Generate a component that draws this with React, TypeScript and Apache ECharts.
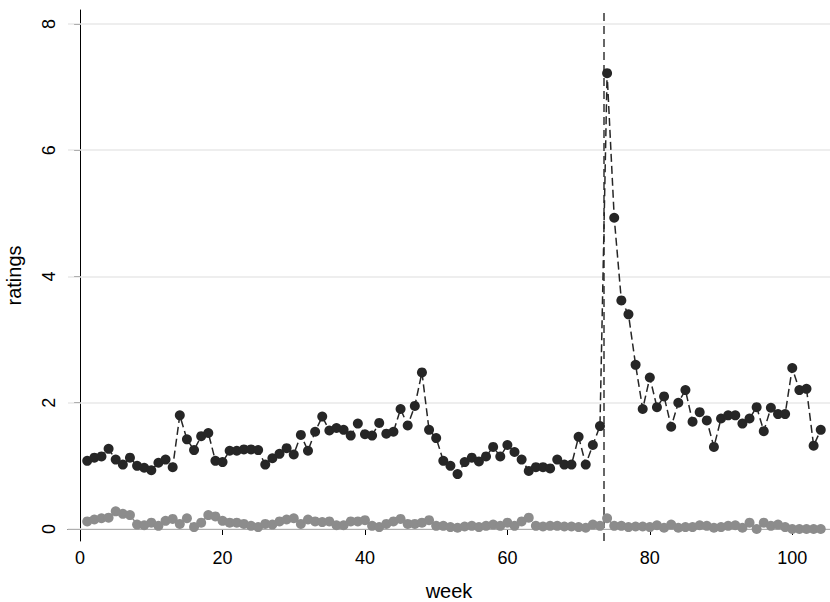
import { useEffect, useRef } from "react";
import * as echarts from "echarts";

const weeks = Array.from({ length: 104 }, (_, i) => i + 1);
const blackValues = [
  1.08, 1.13, 1.15, 1.27, 1.1, 1.02, 1.13, 1.0, 0.97, 0.93, 1.05, 1.1, 0.98, 1.8, 1.42, 1.25, 1.47, 1.52, 1.08, 1.06,
  1.24, 1.24, 1.26, 1.26, 1.25, 1.02, 1.12, 1.19, 1.28, 1.18, 1.49, 1.24, 1.54, 1.78, 1.56, 1.6, 1.57, 1.48, 1.67, 1.5,
  1.48, 1.68, 1.51, 1.54, 1.9, 1.64, 1.95, 2.48, 1.57, 1.44, 1.08, 1.0, 0.87, 1.06, 1.13, 1.07, 1.15, 1.3, 1.15, 1.33,
  1.22, 1.1, 0.92, 0.98, 0.98, 0.96, 1.1, 1.02, 1.02, 1.46, 1.02, 1.33, 1.63, 7.22, 4.93, 3.62, 3.4, 2.6, 1.9, 2.4,
  1.93, 2.1, 1.62, 2.0, 2.2, 1.7, 1.85, 1.72, 1.3, 1.75, 1.8, 1.8, 1.67, 1.75, 1.93, 1.55, 1.92, 1.82, 1.82, 2.55,
  2.2, 2.22, 1.32, 1.57,
];
const grayValues = [
  0.12, 0.15, 0.17, 0.18, 0.28, 0.24, 0.22, 0.07, 0.06, 0.1, 0.05, 0.13, 0.16, 0.08, 0.17, 0.03, 0.1, 0.22, 0.2, 0.13,
  0.1, 0.1, 0.08, 0.05, 0.03, 0.08, 0.07, 0.12, 0.15, 0.17, 0.08, 0.15, 0.12, 0.11, 0.12, 0.06, 0.06, 0.12, 0.12, 0.14,
  0.05, 0.03, 0.08, 0.12, 0.16, 0.08, 0.08, 0.1, 0.14, 0.05, 0.05, 0.03, 0.02, 0.04, 0.05, 0.03, 0.05, 0.07, 0.05, 0.1,
  0.05, 0.12, 0.18, 0.05, 0.04, 0.05, 0.05, 0.04, 0.04, 0.03, 0.02, 0.07, 0.05, 0.17, 0.05, 0.05, 0.03, 0.04, 0.04, 0.03,
  0.06, 0.02, 0.07, 0.02, 0.03, 0.03, 0.06, 0.05, 0.02, 0.03, 0.05, 0.06, 0.02, 0.1, 0.0, 0.1, 0.05, 0.07, 0.03, 0.0,
  0.0, 0.0, 0.0, 0.0,
];
const xTicks = [0, 20, 40, 60, 80, 100];
const yTicks = [0, 2, 4, 6, 8];
const eventWeek = 73.5;

export default function App() {
  const ref = useRef<HTMLDivElement>(null);

  useEffect(() => {
    if (!ref.current) return;
    document.body.style.margin = "0";
    const chart = echarts.init(ref.current, null, { renderer: "svg" });
    const font = "Liberation Sans, Arial, sans-serif";

    chart.setOption({
      animation: false,
      textStyle: { fontFamily: font },
      grid: { left: 68, right: 0, top: 10, bottom: 61, outerBoundsMode: "none", containLabel: false },
      xAxis: {
        type: "value",
        min: -1.7,
        max: 105.3,
        name: "week",
        nameLocation: "middle",
        nameGap: 40,
        nameTextStyle: { fontSize: 20, color: "#000" },
        axisLine: { lineStyle: { color: "#000" } },
        axisTick: { customValues: xTicks, length: 6, lineStyle: { color: "#000" } },
        axisLabel: { customValues: xTicks, fontSize: 18, color: "#000", margin: 8 },
        splitLine: { show: false },
      },
      yAxis: {
        type: "value",
        min: -0.19,
        max: 8.22,
        name: "ratings",
        nameLocation: "middle",
        nameGap: 44,
        nameTextStyle: { fontSize: 20, color: "#000" },
        axisLine: { show: true, lineStyle: { color: "#000" } },
        axisTick: { show: true, customValues: yTicks, length: 6, lineStyle: { color: "#000" } },
        axisLabel: { customValues: yTicks, fontSize: 18, color: "#000", rotate: 90, margin: 10 },
        splitLine: { show: false },
      },
      series: [
        {
          type: "line",
          data: weeks.map((w, i) => [w, grayValues[i]]),
          symbol: "circle",
          symbolSize: 10,
          itemStyle: { color: "#8c8c8c" },
          lineStyle: { color: "#8c8c8c", width: 1.5, type: [8, 4] },
          z: 3,
        },
        {
          type: "line",
          data: weeks.map((w, i) => [w, blackValues[i]]),
          symbol: "circle",
          symbolSize: 10,
          itemStyle: { color: "#262626" },
          lineStyle: { color: "#262626", width: 1.5, type: [8, 4] },
          z: 4,
          markLine: {
            silent: true,
            symbol: "none",
            label: { show: false },
            z: 1,
            data: [
              ...yTicks.map((v) => ({ yAxis: v, lineStyle: { color: "#e8e8e8", width: 1.5, type: "solid" } })),
              { xAxis: eventWeek, lineStyle: { color: "#666", width: 2, type: [8, 5] } },
            ],
          },
        },
      ],
    });

    return () => chart.dispose();
  }, []);

  return <div ref={ref} style={{ width: 830, height: 602 }} />;
}
